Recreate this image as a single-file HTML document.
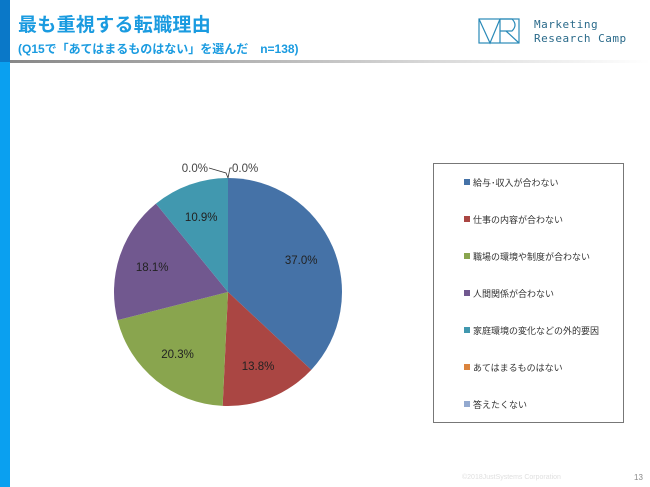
<!DOCTYPE html>
<html><head><meta charset="utf-8"><style>
body{margin:0;width:650px;height:487px;overflow:hidden;background:#fff;font-family:"Liberation Sans","Noto Sans CJK JP",sans-serif;position:relative}
.abs{position:absolute}
</style></head><body>
<div class="abs" style="left:0;top:0;width:10px;height:487px;background:#0aa0f0"></div>
<div class="abs" style="left:0;top:0;width:10px;height:62px;background:#0a78c8"></div>
<div class="abs" style="left:10px;top:60px;width:640px;height:3px;background:linear-gradient(90deg,#888,#ddd 70%,#fff)"></div>
<div class="abs" style="left:18px;top:10px;font-size:19px;font-weight:bold;color:#1a9be0;white-space:nowrap;letter-spacing:0.3px">最も重視する転職理由</div>
<div class="abs" style="left:18px;top:40px;font-size:12px;font-weight:bold;color:#1a9be0;white-space:nowrap">(Q15で「あてはまるものはない」を選んだ　n=138)</div>
<svg class="abs" style="left:478px;top:15px" width="44" height="30"><g fill="none" stroke="#2a8ab8" stroke-width="1.2"><rect x="1" y="4" width="40" height="24"/><path d="M1 4 L12 28 L22 4 M22 4 V28 M22 4 H34 Q40 10 34 16 H22 M28 16 L41 28"/></g></svg>
<div class="abs" style="left:534px;top:18px;font-family:'DejaVu Sans Mono',monospace;font-size:11px;line-height:14px;color:#2a6a8a;letter-spacing:0.5px">Marketing<br>Research Camp</div>
<svg class="abs" style="left:0;top:0" width="650" height="487" id="chart"></svg>
<div class="abs" style="left:433px;top:163px;width:189px;height:258px;border:1px solid #777"></div>
<div id="legend"></div>
<div class="abs" style="left:462px;top:474px;font-size:7px;color:#e0e0e0">©2018JustSystems Corporation</div>
<div class="abs" style="left:634px;top:473px;font-size:8px;color:#888">13</div>
<script>
const categories=["給与･収入が合わない","仕事の内容が合わない","職場の環境や制度が合わない","人間関係が合わない","家庭環境の変化などの外的要因","あてはまるものはない","答えたくない"];
const values=[37.0,13.8,20.3,18.1,10.9,0.0,0.0];
const colors=["#4572a7","#aa4643","#89a54e","#71588f","#4198af","#db843d","#93a9cf"];
const svg=document.getElementById('chart');const NS="http://www.w3.org/2000/svg";
const cx=228,cy=292,r=114;const total=values.reduce((a,b)=>a+b,0);
let a=0;
function pt(ang,rad){return [cx+rad*Math.sin(ang),cy-rad*Math.cos(ang)];}
values.forEach((v,i)=>{
 const a0=a,a1=a+v/total*2*Math.PI;a=a1;
 if(v>0){
  const p=document.createElementNS(NS,'path');
  const [x0,y0]=pt(a0,r),[x1,y1]=pt(a1,r);
  p.setAttribute('d',`M${cx},${cy} L${x0},${y0} A${r},${r} 0 ${a1-a0>Math.PI?1:0} 1 ${x1},${y1} Z`);
  p.setAttribute('fill',colors[i]);
  
  
  svg.appendChild(p);
  const [lx,ly]=pt((a0+a1)/2,r*0.7);
  const t=document.createElementNS(NS,'text');
  t.setAttribute('x',lx);t.setAttribute('y',ly+4);t.setAttribute('text-anchor','middle');
  t.setAttribute('font-size','11.5');t.setAttribute('fill','#222');
  t.textContent=v.toFixed(1)+'%';
  
  
  svg.appendChild(t);
 }
});
const zl=[[208,172],[232,172]];
zl.forEach((z,k)=>{
 const t=document.createElementNS(NS,'text');
 t.setAttribute('x',z[0]);t.setAttribute('y',z[1]);t.setAttribute('text-anchor',k?'start':'end');
 t.setAttribute('font-size','11.5');t.setAttribute('fill','#444');
 t.textContent=values[5+k].toFixed(1)+'%';
 
 
 svg.appendChild(t);
});
const ln=document.createElementNS(NS,'path');
ln.setAttribute('d','M209,168 L226,173 L228,178 M232,168 L230,168 L228,178');
ln.setAttribute('stroke','#333');ln.setAttribute('fill','none');ln.setAttribute('stroke-width','0.8');


svg.appendChild(ln);
const lg=document.getElementById('legend');
categories.forEach((c,i)=>{
 const d=document.createElement('div');
 d.className='abs';d.style.cssText=`left:464px;top:${177+i*37}px;font-size:9px;color:#333;white-space:nowrap;line-height:12px`;
 d.innerHTML=`<span style="display:inline-block;width:6px;height:6px;background:${colors[i]};margin-right:3px;vertical-align:1px"></span>${c}`;
 
 
 lg.appendChild(d);
});
</script>
</body></html>
